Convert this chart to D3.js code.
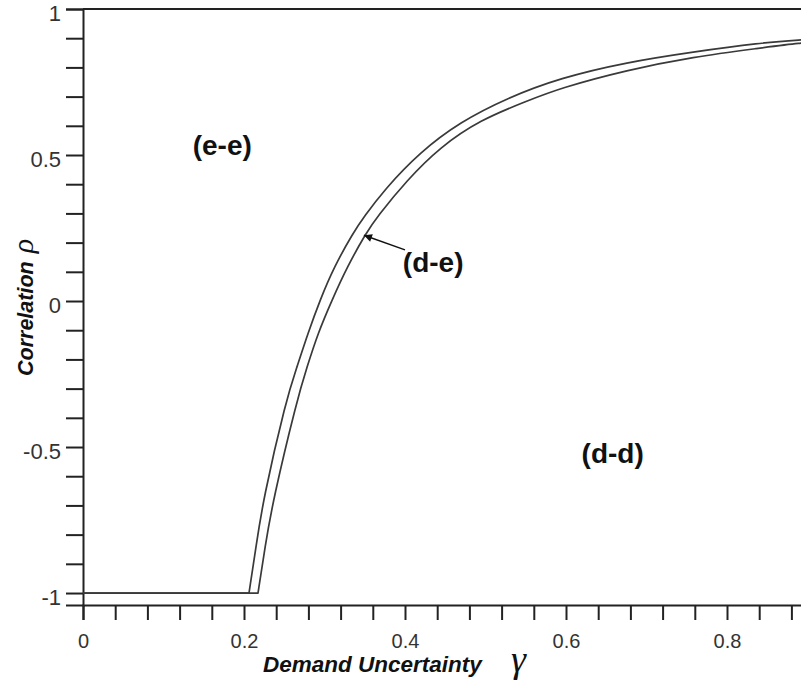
<!DOCTYPE html>
<html>
<head>
<meta charset="utf-8">
<script src="https://cdn.jsdelivr.net/npm/d3@7"></script>
<style>
  html, body { margin: 0; padding: 0; background: #fff; }
  svg { display: block; }
</style>
</head>
<body>
<script>
// ---- data ----
const gammaLeft = [0, 0.2062, 0.2149, 0.2236, 0.2522, 0.2658, 0.2795, 0.2944, 0.3118, 0.3354, 0.3491, 0.3739, 0.4186, 0.4683, 0.5267, 0.5925, 0.6758, 0.7578, 0.8410, 0.8907, 0.928];
const rhoLeft   = [-1, -1, -0.842, -0.682, -0.339, -0.226, -0.110, 0.003, 0.116, 0.233, 0.288, 0.380, 0.510, 0.613, 0.695, 0.764, 0.818, 0.853, 0.884, 0.894, 0.901];
const gammaRight = [0, 0.2174, 0.2261, 0.2360, 0.2658, 0.2783, 0.2919, 0.3093, 0.3280, 0.3516, 0.3652, 0.4025, 0.4435, 0.4932, 0.5516, 0.5925, 0.6758, 0.7578, 0.8410, 0.8907, 0.928];
const rhoRight   = [-1, -1, -0.842, -0.682, -0.339, -0.226, -0.110, 0.003, 0.116, 0.233, 0.288, 0.414, 0.527, 0.620, 0.685, 0.729, 0.791, 0.836, 0.866, 0.884, 0.890];

const xTickValues = d3.range(0, 25).map(i => +(i * 0.04).toFixed(2));
const xTickLabels = [0, 0.2, 0.4, 0.6, 0.8];
const yTickValues = d3.range(-10, 11).map(i => +(i * 0.1).toFixed(1));
const yTickLabels = [-1, -0.5, 0, 0.5, 1];

const regionLabels = ["(e-e)", "(d-e)", "(d-d)"];
const regionGamma  = [0.173, 0.435, 0.658];
const regionRho    = [0.50, 0.10, -0.555];
const arrowGamma = [0.400, 0.349];
const arrowRho   = [0.175, 0.225];

// ---- layout ----
const W = 801, H = 688;
const x = d3.scaleLinear().domain([0, 1]).range([83, 888]);
const y = d3.scaleLinear().domain([-1.041, 1]).range([605, 9]);

const svg = d3.select("body").append("svg")
  .attr("width", W).attr("height", H)
  .style("font-family", "Arial, 'Liberation Sans', sans-serif");
svg.append("rect").attr("width", W).attr("height", H).attr("fill", "#fff");

// top frame line
svg.append("line")
  .attr("x1", x(0)).attr("x2", x(1))
  .attr("y1", y(1)).attr("y2", y(1))
  .attr("stroke", "#222").attr("stroke-width", 2);

// x axis
const xAxis = d3.axisBottom(x)
  .tickValues(xTickValues)
  .tickSize(15).tickSizeOuter(15)
  .tickPadding(14)
  .tickFormat(v => xTickLabels.some(l => Math.abs(l - v) < 1e-9) ? String(v) : "");
const gx = svg.append("g").attr("transform", `translate(0,${y(-1.041)})`).call(xAxis);
gx.selectAll("path, line").attr("stroke", "#222").attr("stroke-width", 2);
gx.selectAll("text").attr("font-size", 20).attr("fill", "#333")
  .attr("font-family", "Arial, 'Liberation Sans', sans-serif");

// y axis
const yAxis = d3.axisLeft(y)
  .tickValues(yTickValues)
  .tickSize(17).tickSizeOuter(17)
  .tickPadding(5)
  .tickFormat(v => yTickLabels.some(l => Math.abs(l - v) < 1e-9) ? String(v) : "");
const gy = svg.append("g").attr("transform", `translate(${x(0)},0)`).call(yAxis);
gy.selectAll("path, line").attr("stroke", "#222").attr("stroke-width", 2);
gy.selectAll("text").attr("font-size", 22).attr("fill", "#333").attr("dy", "0.5em")
  .attr("font-family", "Arial, 'Liberation Sans', sans-serif");

// curves: flat part at rho = -1 plus a smooth rising branch
const flat = d3.line().x(d => x(d[0])).y(d => y(d[1]));
const smooth = d3.line().curve(d3.curveBasis).x(d => x(d[0])).y(d => y(d[1]));
const left = gammaLeft.map((g, i) => [g, rhoLeft[i]]);
const right = gammaRight.map((g, i) => [g, rhoRight[i]]);
[left, right].forEach(data => {
  const k = data.findIndex((d, i) => i > 0 && d[1] > -1) - 1;
  const d = flat(data.slice(0, k + 1)) + smooth(data.slice(k)).replace(/^M/, "L");
  svg.append("path")
    .attr("d", d)
    .attr("fill", "none")
    .attr("stroke", "#3a3a3a")
    .attr("stroke-width", 1.7)
    .attr("stroke-linejoin", "round");
});

// arrow
const defs = svg.append("defs");
defs.append("marker")
  .attr("id", "ah").attr("viewBox", "0 0 10 10")
  .attr("refX", 10).attr("refY", 5)
  .attr("markerWidth", 10).attr("markerHeight", 8)
  .attr("markerUnits", "userSpaceOnUse")
  .attr("orient", "auto")
  .append("path").attr("d", "M0,0 L10,5 L0,10 Z").attr("fill", "#111");
svg.append("line")
  .attr("x1", x(arrowGamma[0])).attr("y1", y(arrowRho[0]))
  .attr("x2", x(arrowGamma[1])).attr("y2", y(arrowRho[1]))
  .attr("stroke", "#111").attr("stroke-width", 1.5)
  .attr("marker-end", "url(#ah)");

// region labels
regionLabels.forEach((t, i) => {
  svg.append("text")
    .attr("x", x(regionGamma[i])).attr("y", y(regionRho[i]))
    .attr("text-anchor", "middle")
    .attr("font-size", 28).attr("font-weight", "bold")
    .attr("fill", "#111")
    .text(t);
});

// x title
svg.append("text")
  .attr("x", 263).attr("y", 672)
  .attr("font-size", 22.5).attr("font-weight", "bold").attr("font-style", "italic")
  .attr("fill", "#111")
  .text("Demand Uncertainty");
svg.append("text")
  .attr("x", 511).attr("y", 672)
  .attr("font-family", "'Times New Roman', 'Liberation Serif', serif")
  .attr("font-size", 38).attr("font-style", "italic")
  .attr("fill", "#111")
  .text("\u03B3");

// y title
const ytg = svg.append("g").attr("transform", "translate(33,376) rotate(-90)");
const ytt = ytg.append("text")
  .attr("x", 0).attr("y", 0)
  .attr("font-size", 21.5).attr("font-weight", "bold").attr("font-style", "italic")
  .attr("fill", "#111");
ytt.append("tspan").text("Correlation");
ytt.append("tspan").attr("dx", 8)
  .attr("font-family", "'Times New Roman', 'Liberation Serif', serif")
  .attr("font-weight", "normal")
  .attr("font-style", "italic")
  .attr("font-size", 30)
  .text("\u03C1");
</script>
</body>
</html>
